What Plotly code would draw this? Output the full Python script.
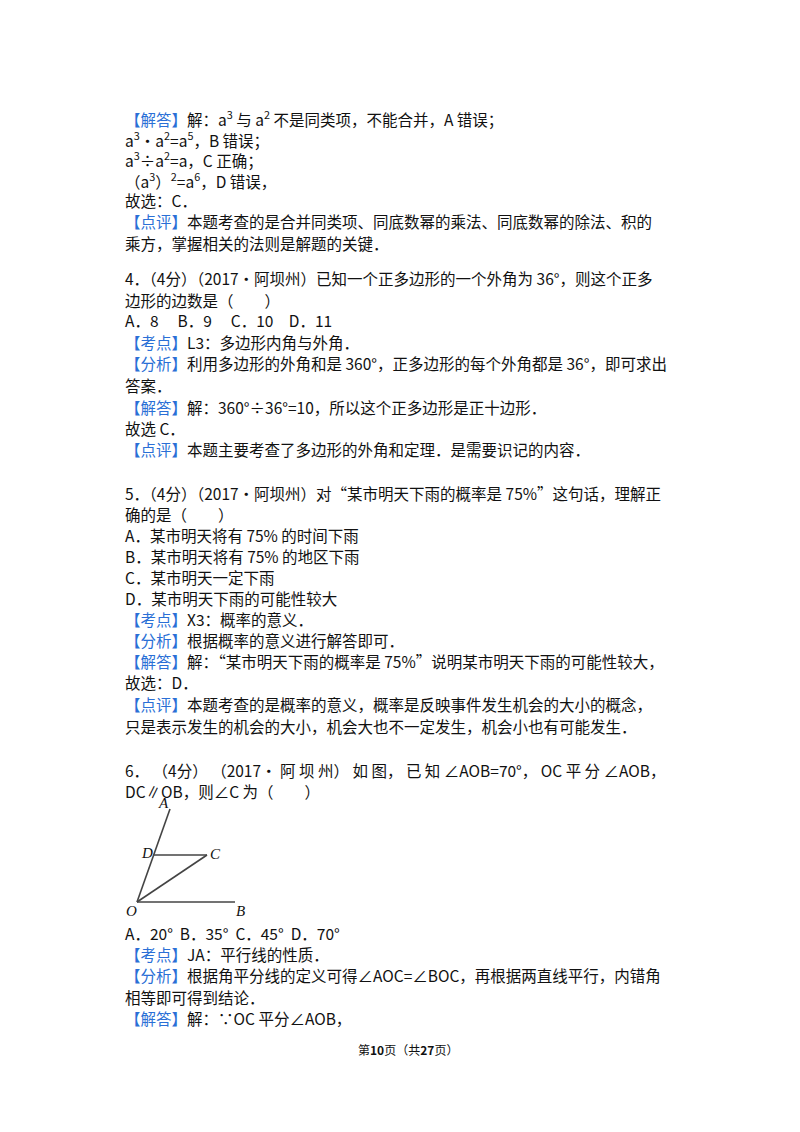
import plotly.graph_objects as go

B = "<span style='color:#2a6fd6'>%s</span>"

line_y = [110, 131, 151, 172, 192, 213, 235,
          270, 292, 312, 334, 355, 377, 399, 420, 441,
          485, 506, 527, 548, 569, 590, 611, 632, 653, 674, 696, 718,
          762, 783,
          925, 946, 967, 989, 1010]
line_text = [
    B % "【解答】" + "解：a<sup>3</sup> 与 a<sup>2</sup> 不是同类项，不能合并，A 错误；",
    "a<sup>3</sup>•a<sup>2</sup>=a<sup>5</sup>，B 错误；",
    "a<sup>3</sup>÷a<sup>2</sup>=a，C 正确；",
    "（a<sup>3</sup>）<sup>2</sup>=a<sup>6</sup>，D 错误，",
    "故选：C．",
    B % "【点评】" + "本题考查的是合并同类项、同底数幂的乘法、同底数幂的除法、积的",
    "乘方，掌握相关的法则是解题的关键．",
    "4．（4分）（2017•阿坝州）已知一个正多边形的一个外角为 36°，则这个正多",
    "边形的边数是（　　）",
    "A．8　 B．9　 C．10　D．11",
    B % "【考点】" + "L3：多边形内角与外角．",
    B % "【分析】" + "利用多边形的外角和是 360°，正多边形的每个外角都是 36°，即可求出",
    "答案．",
    B % "【解答】" + "解：360°÷36°=10，所以这个正多边形是正十边形．",
    "故选 C．",
    B % "【点评】" + "本题主要考查了多边形的外角和定理．是需要识记的内容．",
    "5．（4分）（2017•阿坝州）对“某市明天下雨的概率是 75%”这句话，理解正",
    "确的是（　　）",
    "A．某市明天将有 75% 的时间下雨",
    "B．某市明天将有 75% 的地区下雨",
    "C．某市明天一定下雨",
    "D．某市明天下雨的可能性较大",
    B % "【考点】" + "X3：概率的意义．",
    B % "【分析】" + "根据概率的意义进行解答即可．",
    B % "【解答】" + "解：“某市明天下雨的概率是 75%”说明某市明天下雨的可能性较大，",
    "故选：D．",
    B % "【点评】" + "本题考查的是概率的意义，概率是反映事件发生机会的大小的概念，",
    "只是表示发生的机会的大小，机会大也不一定发生，机会小也有可能发生．",
    "6． （4分） （2017• 阿 坝 州） 如 图， 已 知 ∠AOB=70°， OC 平 分 ∠AOB，",
    "DC∥OB，则∠C 为（　　）",
    "A．20°  B．35°  C．45°  D．70°",
    B % "【考点】" + "JA：平行线的性质．",
    B % "【分析】" + "根据角平分线的定义可得∠AOC=∠BOC，再根据两直线平行，内错角",
    "相等即可得到结论．",
    B % "【解答】" + "解：∵OC 平分∠AOB，",
]

# geometry figure (page pixel coords)
pt_name = ["O", "A", "D", "C", "B"]
pt_x = [129, 162, 146, 199, 227]
pt_y = [894, 801, 847, 847, 894]
segments = [("O", "A"), ("D", "C"), ("O", "C"), ("O", "B")]
label_dx = {"O": -6, "A": -7, "D": -7, "C": 8, "B": 5}
label_dy = {"O": 9, "A": -6, "D": -2, "C": -1, "B": 9}

fig = go.Figure()
P = dict(zip(pt_name, zip(pt_x, pt_y)))
for a, b in segments:
    fig.add_trace(go.Scatter(x=[P[a][0], P[b][0]], y=[P[a][1], P[b][1]], mode="lines",
                             line=dict(color="#444", width=1.6), hoverinfo="skip"))

ann = []
for y, t in zip(line_y, line_text):
    ann.append(dict(x=115, y=y, text=t, showarrow=False, xanchor="left", yanchor="middle",
                    font=dict(size=15.5, color="#111", family="Noto Sans CJK SC")))
for n in pt_name:
    ann.append(dict(x=P[n][0] + label_dx[n], y=P[n][1] + label_dy[n], text="<i>%s</i>" % n,
                    showarrow=False, font=dict(size=15, color="#111", family="Liberation Serif")))
ann.append(dict(x=400, y=1041, text="第<b>10</b>页（共<b>27</b>页）", showarrow=False,
                font=dict(size=12, color="#111", family="Noto Sans CJK SC")))

fig.update_layout(width=800, height=1132, margin=dict(l=0, r=0, t=0, b=0),
                  paper_bgcolor="white", plot_bgcolor="white", showlegend=False,
                  annotations=ann,
                  xaxis=dict(range=[0, 800], visible=False, fixedrange=True),
                  yaxis=dict(range=[1132, 0], visible=False, fixedrange=True))
fig.write_html("out.html", config={"displayModeBar": False})
